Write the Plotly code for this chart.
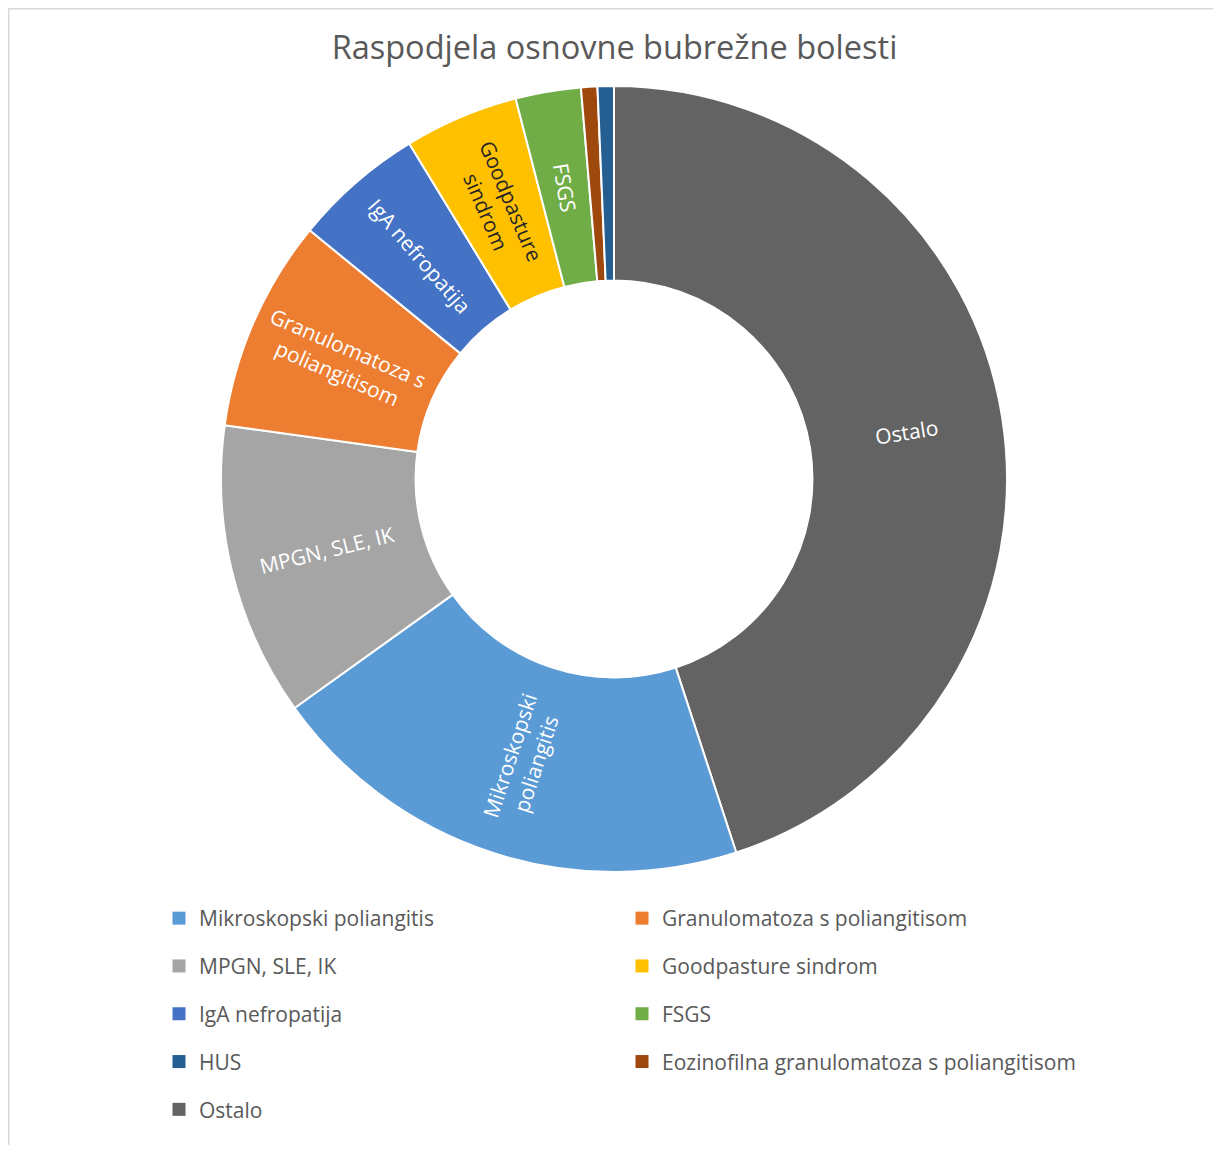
import math
import plotly.graph_objects as go

# ---------------- data ----------------
title_text = "Raspodjela osnovne bubrežne bolesti"

categories = [
    "Mikroskopski poliangitis",
    "Granulomatoza s poliangitisom",
    "MPGN, SLE, IK",
    "Goodpasture sindrom",
    "IgA nefropatija",
    "FSGS",
    "HUS",
    "Eozinofilna granulomatoza s poliangitisom",
    "Ostalo",
]
counts = [30, 13, 18, 7, 8, 4, 1, 1, 67]
colors = ["#5B9BD5", "#ED7D31", "#A5A5A5", "#FFC000", "#4472C4",
          "#70AD47", "#255E91", "#9E480E", "#636363"]
slice_text = ["Mikroskopski<br>poliangitis", "Granulomatoza s<br>poliangitisom",
              "MPGN, SLE, IK", "Goodpasture<br>sindrom", "IgA nefropatija",
              "FSGS", "", "", "Ostalo"]
slice_text_colors = ["#FFFFFF", "#FFFFFF", "#FFFFFF", "#262626", "#FFFFFF",
                     "#FFFFFF", "#FFFFFF", "#FFFFFF", "#FFFFFF"]

# clockwise order of slices starting at 12 o'clock
slice_order = ["Ostalo", "Mikroskopski poliangitis", "MPGN, SLE, IK",
               "Granulomatoza s poliangitisom", "IgA nefropatija",
               "Goodpasture sindrom", "FSGS",
               "Eozinofilna granulomatoza s poliangitisom", "HUS"]

legend_col1 = ["Mikroskopski poliangitis", "MPGN, SLE, IK", "IgA nefropatija", "HUS", "Ostalo"]
legend_col2 = ["Granulomatoza s poliangitisom", "Goodpasture sindrom", "FSGS",
               "Eozinofilna granulomatoza s poliangitisom"]

# ---------------- figure ----------------
W, H = 1205, 1137
FONT = "Open Sans"
GREY = "#595959"
CX, CY, R, HOLE = 606, 471, 393, 0.505   # pie centre / radius in px (from top-left)

idx = [categories.index(n) for n in slice_order]

fig = go.Figure()
fig.add_trace(go.Pie(
    labels=[categories[i] for i in idx],
    values=[counts[i] for i in idx],
    marker=dict(colors=[colors[i] for i in idx], line=dict(color="white", width=2)),
    textinfo="none",
    hoverinfo="label+value+percent",
    sort=False,
    direction="clockwise",
    rotation=0,
    hole=HOLE,
    showlegend=False,
    domain=dict(x=[(CX - R) / W, (CX + R) / W], y=[(H - CY - R) / H, (H - CY + R) / H]),
))

# Excel-style radial labels at the middle of each ring segment
total = sum(counts)
r_mid = R * (1 + HOLE) / 2
annotations = []
cum = 0
for i in idx:
    theta = 2 * math.pi * (cum + counts[i] / 2) / total
    cum += counts[i]
    if not slice_text[i]:
        continue
    dx, dy = math.sin(theta), -math.cos(theta)      # screen direction (y down)
    ang = math.degrees(math.atan2(dy, dx))
    if ang > 90:
        ang -= 180
    elif ang < -90:
        ang += 180
    annotations.append(dict(
        text=slice_text[i], showarrow=False, xref="paper", yref="paper",
        x=(CX + r_mid * dx) / W, y=(H - CY - r_mid * dy) / H,
        xanchor="center", yanchor="middle", align="center", textangle=ang,
        font=dict(family=FONT, size=21, color=slice_text_colors[i]),
    ))

for col, lg in ((legend_col1, "legend"), (legend_col2, "legend2")):
    for name in col:
        i = categories.index(name)
        fig.add_trace(go.Scatter(
            x=[None], y=[None], mode="markers", name=name,
            marker=dict(symbol="square", size=13, color=colors[i]),
            legend=lg, legendgroup=name, showlegend=True,
        ))

legend_common = dict(orientation="v", xanchor="left", yanchor="top",
                     traceorder="grouped", tracegroupgap=17.5,
                     font=dict(family=FONT, size=21, color=GREY),
                     bgcolor="rgba(0,0,0,0)", itemclick=False, itemdoubleclick=False)

fig.update_layout(
    width=W, height=H,
    margin=dict(l=0, r=0, t=0, b=0),
    paper_bgcolor="white", plot_bgcolor="white",
    title=dict(text=title_text, x=606.5 / W, xanchor="center", xref="container",
               y=1 - 40 / H, yanchor="middle", yref="container",
               font=dict(family=FONT, size=32.5, color=GREY)),
    xaxis=dict(visible=False), yaxis=dict(visible=False),
    legend=dict(x=151 / W, y=(H - 890) / H, **legend_common),
    legend2=dict(x=614 / W, y=(H - 890) / H, **legend_common),
    annotations=annotations,
    shapes=[
        dict(type="line", xref="paper", yref="paper", x0=0, x1=1, y0=1, y1=1,
             line=dict(color="#D9D9D9", width=3)),
        dict(type="line", xref="paper", yref="paper", x0=0, x1=0, y0=0, y1=1,
             line=dict(color="#D9D9D9", width=3)),
    ],
)

fig.write_html("out.html")
